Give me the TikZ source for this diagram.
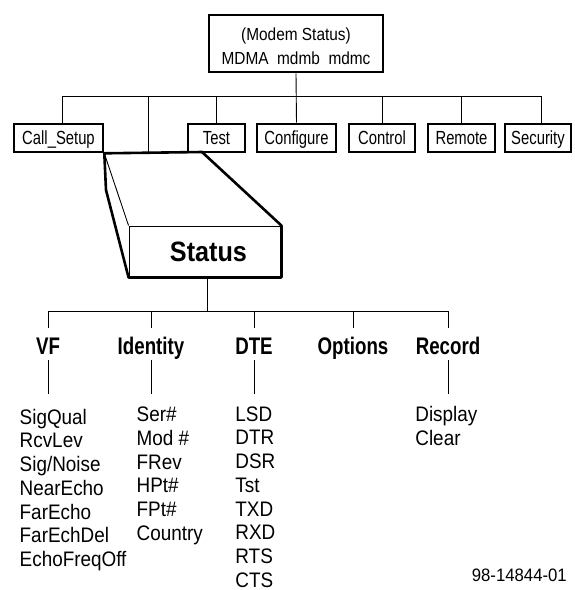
\documentclass[tikz,border=0pt]{standalone}
\usepackage{fontspec}
\setmainfont{Liberation Sans}
% condensed cuts of the same sans face
\newfontfamily\menusf[FakeStretch=0.78]{Liberation Sans}
\newfontfamily\topsf[FakeStretch=0.88]{Liberation Sans}
\newfontfamily\statsf[FakeStretch=0.9]{Liberation Sans}
\newfontfamily\listsf[FakeStretch=0.9]{Liberation Sans}
\newfontfamily\codesf[FakeStretch=0.93]{Liberation Sans}

\begin{document}
\begin{tikzpicture}[x=1pt,y=-1pt,
  conn/.style={line width=0.9pt},
  heavy/.style={line width=2.6pt},
  menubox/.style={draw, heavy, minimum height=28pt, inner sep=0pt,
    text height=14pt, text depth=1.4pt,
    font=\menusf\fontsize{19}{23}\selectfont},
  cattxt/.style={inner sep=0pt, anchor=base, text height=17.5pt, text depth=5pt,
    font=\menusf\bfseries\fontsize{24}{28}\selectfont},
  itemlist/.style={inner sep=0pt, anchor=north west, align=left,
    font=\listsf\fontsize{21}{23.7}\selectfont}
]
\useasboundingbox (0,0) rectangle (574,590);

% ---- root menu ----
\node[draw, heavy, minimum width=174pt, minimum height=57pt, inner sep=0pt] (modem) at (296,43.5) {};
\node[anchor=north, inner sep=0pt, align=center, font=\topsf\fontsize{17.5}{24.3}\selectfont]
  (modemtxt) at (296,27) {\rule{0pt}{13pt}(Modem Status)\\MDMA~~mdmb~~mdmc};

% ---- first level ----
\node[menubox, minimum width=89pt] (cs)   at (58.5,138) {Call\_Setup};
\node[menubox, minimum width=57pt] (test) at (216.5,138) {Test};
\node[menubox, minimum width=79pt] (conf) at (296.5,138) {Configure};
\node[menubox, minimum width=66pt] (ctrl) at (382,138) {Control};
\node[menubox, minimum width=67pt] (rem)  at (461.5,138) {Remote};
\node[menubox, minimum width=66pt] (sec)  at (538,138) {Security};

\coordinate (busL) at (62,96);
\coordinate (busS) at (148,96);
\coordinate (busR) at (541,96);
\draw[conn] (busL) -- (busR);
\draw[conn] (modem.south) -- (conf.north);
\draw[conn] (busL) -- (busL |- cs.north);
\draw[conn] (busS) -- (busS |- cs.south);
\draw[conn] (test.north |- busL) -- (test.north);
\draw[conn] (ctrl.north |- busL) -- (ctrl.north);
\draw[conn] (rem.north |- busL) -- (rem.north);
\draw[conn] (busR) -- (busR |- sec.north);

% ---- expanded Status block ----
\node[draw, conn, minimum width=152pt, minimum height=51pt, inner sep=0pt] (face) at (205,251.5) {};
\node[anchor=base, inner sep=0pt, font=\statsf\bfseries\fontsize{28}{32}\selectfont] (status) at (208.5,261.7) {Status};
\coordinate (backR) at (202,152);
\coordinate (backL) at (106,190);
\draw[heavy, line join=round] (cs.south east) -- (backR) -- (face.north east) -- (face.south east)
  -- (face.south west) -- (backL) -- cycle;
\draw[conn] (cs.south east) -- (face.north west);

% ---- second level ----
\coordinate (lbL) at (48,311);
\coordinate (lbR) at (448,311);
\coordinate (lstem) at (207,311);
\draw[conn] (lstem |- face.south) -- (lstem);
\draw[conn] (lbL) -- (lbR);

\node[cattxt] (vf)  at (48,354)  {VF};
\node[cattxt] (idn) at (151,354) {Identity};
\node[cattxt] (dte) at (254,354) {DTE};
\node[cattxt] (opt) at (353,354) {Options};
\node[cattxt] (rec) at (448,354) {Record};

\foreach \n in {vf,idn,dte,opt,rec}
  \draw[conn, shorten >=8.5pt] (\n.north |- lbL) -- (\n.north);

% ---- item lists ----
\node[itemlist] (vflist) at (19.5,408) {\rule{0pt}{16pt}SigQual\\RcvLev\\Sig/Noise\\NearEcho\\FarEcho\\FarEchDel\\EchoFreqOff};
\node[itemlist] (idlist) at (136.5,405.5) {\rule{0pt}{16pt}Ser\#\\Mod \#\\FRev\\HPt\#\\FPt\#\\Country};
\node[itemlist] (dtelist) at (235.2,405) {\rule{0pt}{16pt}LSD\\DTR\\DSR\\Tst\\TXD\\RXD\\RTS\\CTS};
\node[itemlist] (reclist) at (415.2,405.5) {\rule{0pt}{16pt}Display\\Clear};

\draw[conn, shorten <=1pt, shorten >=11.5pt] (vf.south) -- (vf.south |- idlist.north);
\draw[conn, shorten <=1pt, shorten >=11.5pt] (idn.south) -- (idn.south |- idlist.north);
\draw[conn, shorten <=1pt, shorten >=11.5pt] (dte.south) -- (dte.south |- idlist.north);
\draw[conn, shorten <=1pt, shorten >=11.5pt] (rec.south) -- (rec.south |- reclist.north);

% ---- figure number ----
\node[anchor=base east, inner sep=0pt, font=\codesf\fontsize{18}{20}\selectfont] (fignum) at (567,581.7) {98-14844-01};
\end{tikzpicture}
\end{document}
